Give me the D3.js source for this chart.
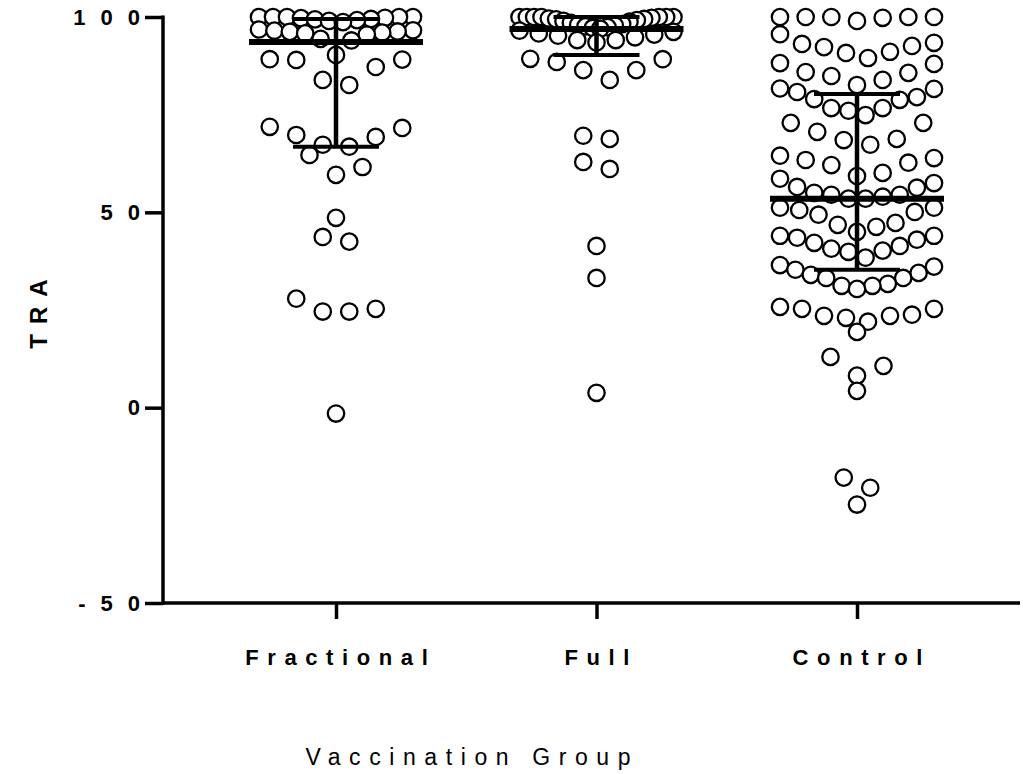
<!DOCTYPE html>
<html>
<head>
<meta charset="utf-8">
<script src="https://cdn.jsdelivr.net/npm/d3@7"></script>
<style>
  body { margin: 0; background: #fff; }
  text { font-family: "Liberation Sans", Arial, sans-serif; fill: #000; }
</style>
</head>
<body>
<div id="chart"></div>
<script>
// values
var groups = ["Fractional", "Full", "Control"];

var fractional = [
    100, 100, 100, 100, 100, 99.8, 99.7, 99.5, 99.4, 99.2, 99.0, 98.7,
    96.8, 96.6, 96.5, 96.3, 96.2, 96.0, 95.8, 95.5, 94.4, 94.0, 90.3,
    89.2, 89.1, 89.0, 87.2, 83.9, 82.6,
    71.9, 71.6, 69.8, 69.3, 67.3, 66.8,
    64.7, 61.6, 59.6,
    48.6, 43.7, 42.5,
    27.9, 25.3, 24.6, 24.6,
    -1.5
];

var full = [
    100, 100, 100, 100, 100, 100, 100, 99.8, 99.6, 99.5, 99.4, 99.2, 99.0,
    98.8, 98.5, 98.2, 98.0, 97.8, 97.6, 97.4, 97.2, 97.0,
    96.5, 96.2, 95.8, 95.5, 95.2, 94.8, 94.1, 94.1, 93.5,
    89.3, 89.2, 88.5, 86.4, 86.4, 83.9,
    69.6, 68.8, 62.9, 61.1,
    41.4, 33.2, 3.8
];

var control = [
    100, 100, 100, 99, 100, 100, 99.8,
    95.6, 93.1, 92.3, 90.8, 89.5, 91.1, 92.6, 93.4,
    88.2, 85.9, 84.9, 82.6, 83.9, 85.7, 88.0,
    81.7, 80.8, 79.0, 76.7, 76.0, 74.9, 76.7, 78.8, 79.5, 81.6,
    72.9, 72.9, 68.8, 67.3, 68.5, 70.6,
    63.9, 62.7, 60.1, 59.3, 62.1, 63.4, 64.5,
    57.5, 56.3, 54.5, 54.0, 53.5, 53.5, 54.5, 55.0, 56.5, 58.6,
    51.2, 50.1, 47.3, 46.3, 45.0, 46.8, 49.4, 50.6, 51.2,
    44.0, 43.0, 41.4, 40.2, 38.4, 39.9, 40.7, 42.2, 43.5, 44.0,
    36.1, 34.5, 33.2, 31.7, 31.2, 30.4, 31.2, 33.2, 34.0, 35.3, 36.5,
    25.3, 23.8, 23.5, 22.0, 23.0, 23.5, 25.3, 25.8,
    19.4, 13.0, 10.7, 8.2, 4.3, -17.9, -20.5, -24.8
];

// median and interquartile range as drawn
var medians = [93.6, 96.9, 53.5];
var lowerQ = [66.8, 90.3, 35.3];
var upperQ = [99.5, 100, 80.3];

var yTicks = [-50, 0, 50, 100];

var series = [fractional, full, control];

var width = 1023, height = 774;
var axisLeftX = 163, axisRightX = 1020;

var svg = d3.select("#chart")
    .append("svg")
    .attr("width", width)
    .attr("height", height);

var x = d3.scalePoint()
    .domain(groups)
    .range([336, 857]);

var y = d3.scaleLinear()
    .domain([-50, 100])
    .range([603, 17]);

//////////////////////////////////////////////////////////////
// scatter layout: values are put in rows (bins), each row spread
// out around the group centre, highest values on the outside

var binWidth = 7.55, binEdge = 89.4;
var maxGap = 26.5, maxSpan = 154;

function layout(values) {
    var rows = d3.group(values, function (v) { return Math.floor((v - binEdge) / binWidth); });
    var pts = [];
    rows.forEach(function (vals) {
        vals = vals.slice().sort(d3.descending);
        var n = vals.length;
        var gap = n > 1 ? Math.min(maxGap, maxSpan / (n - 1)) : 0;
        var order = [];
        var lo = 0, hi = n - 1;
        while (lo <= hi) {
            order.push(lo++);
            if (lo <= hi) order.push(hi--);
        }
        vals.forEach(function (v, i) {
            pts.push({ v: v, dx: (order[i] - (n - 1) / 2) * gap });
        });
    });
    return pts;
}

series.forEach(function (vals, gi) {
    svg.append("g")
        .selectAll("circle")
        .data(layout(vals))
        .enter()
        .append("circle")
        .attr("cx", function (d) { return x(groups[gi]) + d.dx; })
        .attr("cy", function (d) { return y(d.v); })
        .attr("r", 8.2)
        .attr("fill", "#fff")
        .attr("stroke", "#000")
        .attr("stroke-width", 2.3);
});

//////////////////////////////////////////////////////////////
// median + IQR bars

var stats = groups.map(function (g, i) {
    return { g: g, med: medians[i], lo: lowerQ[i], hi: upperQ[i] };
});

var bars = svg.append("g").attr("stroke", "#000");

bars.selectAll(".med").data(stats).enter().append("line")
    .attr("x1", function (d) { return x(d.g) - 87; })
    .attr("x2", function (d) { return x(d.g) + 87; })
    .attr("y1", function (d) { return y(d.med); })
    .attr("y2", function (d) { return y(d.med); })
    .attr("stroke-width", 6);

bars.selectAll(".whisk").data(stats).enter().append("line")
    .attr("x1", function (d) { return x(d.g); })
    .attr("x2", function (d) { return x(d.g); })
    .attr("y1", function (d) { return y(d.hi); })
    .attr("y2", function (d) { return y(d.lo); })
    .attr("stroke-width", 4.5);

bars.selectAll(".capHi").data(stats).enter().append("line")
    .attr("x1", function (d) { return x(d.g) - 43; })
    .attr("x2", function (d) { return x(d.g) + 43; })
    .attr("y1", function (d) { return y(d.hi); })
    .attr("y2", function (d) { return y(d.hi); })
    .attr("stroke-width", 4);

bars.selectAll(".capLo").data(stats).enter().append("line")
    .attr("x1", function (d) { return x(d.g) - 43; })
    .attr("x2", function (d) { return x(d.g) + 43; })
    .attr("y1", function (d) { return y(d.lo); })
    .attr("y2", function (d) { return y(d.lo); })
    .attr("stroke-width", 4);

//////////////////////////////////////////////////////////////
// axes

var yAxis = svg.append("g")
    .attr("transform", "translate(" + axisLeftX + ",0)")
    .call(d3.axisLeft(y).tickValues(yTicks)
        .tickFormat(function (d) { return String(d); })
        .tickSize(18).tickPadding(8).tickSizeOuter(0));

yAxis.select(".domain").remove();
yAxis.selectAll(".tick line").attr("stroke", "#000").attr("stroke-width", 3.5);
yAxis.selectAll(".tick text")
    .style("font-size", "22px")
    .style("font-weight", "bold")
    .style("letter-spacing", "15px")
    .attr("dx", "18px");

var xAxis = svg.append("g")
    .attr("transform", "translate(0," + y(-50) + ")")
    .call(d3.axisBottom(x).tickSize(16).tickPadding(30).tickSizeOuter(0));

xAxis.select(".domain").remove();
xAxis.selectAll(".tick line").attr("stroke", "#000").attr("stroke-width", 3.5);
xAxis.selectAll(".tick text")
    .style("font-size", "22px")
    .style("font-weight", "bold")
    .style("letter-spacing", "8.6px")
    .attr("dx", "4.3px");

// axis lines drawn last so they sit over the ticks
svg.append("line")
    .attr("x1", axisLeftX).attr("x2", axisLeftX)
    .attr("y1", y(100) - 1.5).attr("y2", y(-50) + 1.75)
    .attr("stroke", "#000").attr("stroke-width", 3.5);

svg.append("line")
    .attr("x1", axisLeftX).attr("x2", axisRightX)
    .attr("y1", y(-50)).attr("y2", y(-50))
    .attr("stroke", "#000").attr("stroke-width", 3.5);

// axis titles
svg.append("text")
    .attr("transform", "translate(47,314) rotate(-90)")
    .attr("text-anchor", "middle")
    .style("font-size", "24px")
    .style("font-weight", "bold")
    .style("letter-spacing", "10px")
    .attr("dx", "5px")
    .text("TRA");

svg.append("text")
    .attr("x", 468)
    .attr("y", 765)
    .attr("text-anchor", "middle")
    .style("font-size", "23px")
    .style("letter-spacing", "8.6px")
    .attr("dx", "4.3px")
    .text("Vaccination Group");
</script>
</body>
</html>
